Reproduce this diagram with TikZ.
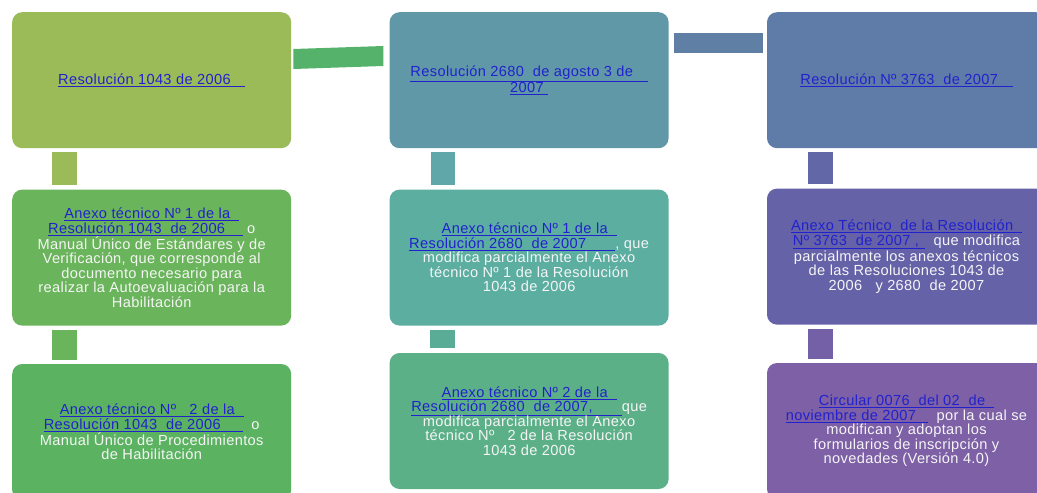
\documentclass[tikz,border=0pt]{standalone}
\usepackage{fontspec}
\setmainfont{Liberation Sans}[LetterSpace=2.5]
\usetikzlibrary{positioning,calc}

\definecolor{linkblue}{RGB}{34,34,204}
\definecolor{gA}{RGB}{155,187,89}
\definecolor{gB}{RGB}{106,180,91}
\definecolor{gC}{RGB}{91,179,98}
\definecolor{gLink}{RGB}{84,178,106}
\definecolor{tA}{RGB}{96,152,168}
\definecolor{tBar}{RGB}{95,167,168}
\definecolor{tB}{RGB}{91,174,160}
\definecolor{tBar2}{RGB}{91,172,150}
\definecolor{tC}{RGB}{91,176,136}
\definecolor{tLink}{RGB}{96,127,165}
\definecolor{pA}{RGB}{95,123,168}
\definecolor{pBar}{RGB}{98,103,168}
\definecolor{pB}{RGB}{101,98,168}
\definecolor{pBar2}{RGB}{116,96,166}
\definecolor{pC}{RGB}{125,96,165}

\newcommand{\lnk}[1]{{\color{linkblue}\underline{#1}}}

\begin{document}
\begin{tikzpicture}[x=1pt,y=-1pt,
   resbox/.style={rounded corners=10pt,minimum width=279pt,minimum height=136pt,
     inner sep=0pt,align=center,text=white!96!black,
     font=\fontsize{14.6}{14.5}\selectfont},
   node distance=41pt]
\useasboundingbox (0,0) rectangle (1037,493);
\clip (0,0) rectangle (1037,493);
% first column
\node[resbox,fill=gA,anchor=north west] (r1) at (12,12)
  {\lnk{Resolución 1043 de 2006\hspace{1em}}};
\node[resbox,fill=gB,below=of r1] (a1)
  {\lnk{Anexo técnico Nº 1 de la\hspace{0.6em}}\\
   \lnk{Resolución 1043\ \ de 2006\hspace{1.2em}} o\\
   Manual Único de Estándares y de\\
   Verificación, que corresponde al\\
   documento necesario para\\
   realizar la Autoevaluación para la\\
   Habilitación};
\node[resbox,fill=gC,below=38pt of a1] (b1)
  {\lnk{Anexo técnico Nº\ \ \ 2 de la\hspace{0.6em}}\\
   \lnk{Resolución 1043\ \ de 2006\hspace{1.5em}}\ \ o\\
   Manual Único de Procedimientos\\
   de Habilitación};
% second column
\node[resbox,fill=tA,right=98pt of r1] (r2)
  {\lnk{Resolución 2680\ \ de agosto 3 de\hspace{1em}}\\
   \lnk{2007\hspace{0.3em}}};
\node[resbox,fill=tB,below=of r2] (a2)
  {\lnk{Anexo técnico Nº 1 de la\hspace{0.6em}}\\
   \lnk{Resolución 2680\ \ de 2007\hspace{2em}}, que\\
   modifica parcialmente el Anexo\\
   técnico Nº 1 de la Resolución\\
   1043 de 2006};
\node[resbox,fill=tC,below=27pt of a2] (b2)
  {\lnk{Anexo técnico Nº 2 de la\hspace{0.6em}}\\
   \lnk{Resolución 2680\ \ de 2007,\hspace{2em}}que\\
   modifica parcialmente el Anexo\\
   técnico Nº\ \ \ 2 de la Resolución\\
   1043 de 2006};
% third column
\node[resbox,fill=pA,right=98pt of r2] (r3)
  {\lnk{Resolución Nº 3763\ \ de 2007\hspace{1em}}};
\node[resbox,fill=pB,below=40pt of r3] (a3)
  {\lnk{Anexo Técnico\ \ de la Resolución\hspace{0.6em}}\\
   \lnk{Nº 3763\ \ de 2007 ,\hspace{0.4em}}\ \ que modifica\\
   parcialmente los anexos técnicos\\
   de las Resoluciones 1043 de\\
   2006\ \ \ y 2680\ \ de 2007};
\node[resbox,fill=pC,below=38pt of a3] (b3)
  {\lnk{Circular 0076\ \ del 02\ \ de\hspace{0.6em}}\\
   \lnk{noviembre de 2007\hspace{0.8em}}\ \ por la cual se\\
   modifican y adoptan los\\
   formularios de inscripción y\\
   novedades (Versión 4.0)};
% connectors
\fill[gLink] ($(r1.north east)+(2,37)$) -- ($(r2.north west)+(-6,34)$)
  -- ($(r2.north west)+(-6,54)$) -- ($(r1.north east)+(2,57)$) -- cycle;
\fill[tLink] ($(r2.north east)+(5,21)$) rectangle ($(r3.north west)+(-4,41)$);
\fill[gA] ($(r1.south west)+(40,4)$) rectangle ($(a1.north west)+(65,-4)$);
\fill[gB] ($(a1.south west)+(40,4)$) rectangle ($(b1.north west)+(65,-4)$);
\fill[tBar] ($(r2.south west)+(42,4)$) rectangle ($(a2.north west)+(66,-4)$);
\fill[tBar2] ($(a2.south west)+(41,4)$) rectangle ($(b2.north west)+(66,-5)$);
\fill[pBar] ($(r3.south west)+(41,4)$) rectangle ($(a3.north west)+(66,-4)$);
\fill[pBar2] ($(a3.south west)+(41,4)$) rectangle ($(b3.north west)+(66,-4)$);
\end{tikzpicture}
\end{document}
